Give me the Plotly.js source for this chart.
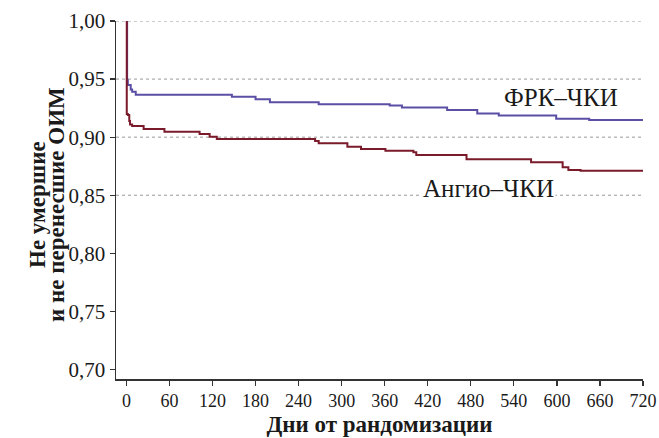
<!DOCTYPE html>
<html>
<head>
<meta charset="utf-8">
<script src="https://cdn.plot.ly/plotly-3.0.1.min.js"></script>
<style>html,body{margin:0;padding:0;background:#fff;}</style>
</head>
<body>
<div id="chart" style="width:659px;height:438px;"></div>
<script>
// Series: ФРК–ЧКИ (blue)
const frkDays = [0, 1, 2, 6, 8, 13, 147, 180, 200, 268, 367, 384, 447, 489, 519, 599, 645, 720];
const frkSurv = [1.00, 0.949, 0.945, 0.941, 0.939, 0.9365, 0.9347, 0.9327, 0.930, 0.9284, 0.9273, 0.9256, 0.9233, 0.9204, 0.9187, 0.9158, 0.9147, 0.9147];
// Series: Ангио–ЧКИ (red)
const angDays = [0, 0.5, 2, 4, 5, 8, 24, 53, 102, 116, 126, 263, 268, 308, 327, 361, 400, 404, 474, 564, 608, 616, 633, 720];
const angSurv = [1.00, 0.920, 0.919, 0.914, 0.911, 0.9095, 0.907, 0.9047, 0.9027, 0.9004, 0.8984, 0.8967, 0.8948, 0.8918, 0.8898, 0.8883, 0.887, 0.8846, 0.881, 0.8783, 0.874, 0.8717, 0.8711, 0.8711];

const xTicks = [0, 60, 120, 180, 240, 300, 360, 420, 480, 540, 600, 660, 720];
const yTicks = [0.70, 0.75, 0.80, 0.85, 0.90, 0.95, 1.00];
const yTickLabels = ['0,70', '0,75', '0,80', '0,85', '0,90', '0,95', '1,00'];
const gridVals = [0.85, 0.90, 0.95, 1.00];

const seriesNames = ['ФРК–ЧКИ', 'Ангио–ЧКИ'];
const xTitle = 'Дни от рандомизации';
const yTitleLines = ['Не умершие', 'и не перенесшие ОИМ'];

const serif = 'Liberation Serif, Times New Roman, serif';

const traces = [
  {x: frkDays, y: frkSurv, mode: 'lines', line: {shape: 'hv', color: '#5b4fa5', width: 2}, name: seriesNames[0], hoverinfo: 'skip'},
  {x: angDays, y: angSurv, mode: 'lines', line: {shape: 'hv', color: '#7a1a2b', width: 2}, name: seriesNames[1], hoverinfo: 'skip'}
];

const shapes = gridVals.map(v => ({
  type: 'line', xref: 'paper', x0: 0, x1: 1, yref: 'y', y0: v, y1: v,
  line: {color: '#9a9a9a', width: 1, dash: 'dot'}, layer: 'below'
}));

const layout = {
  width: 659, height: 438,
  margin: {l: 116, r: 16, t: 21, b: 59},
  paper_bgcolor: '#fff', plot_bgcolor: '#fff',
  showlegend: false,
  font: {family: serif, color: '#1a1a1a'},
  xaxis: {
    range: [-14.5, 720], tickvals: xTicks, ticktext: xTicks.map(String),
    showgrid: false, zeroline: false, showline: true, linecolor: '#333', linewidth: 1.5,
    ticks: 'outside', ticklen: 5, tickwidth: 1.2, tickcolor: '#333',
    tickfont: {family: serif, size: 18, color: '#1a1a1a'},
    title: {text: '<b>' + xTitle + '</b>', font: {family: serif, size: 23, color: '#1a1a1a'}, standoff: 6}
  },
  yaxis: {
    range: [0.6918, 1.0], tickvals: yTicks, ticktext: yTickLabels,
    showgrid: false, zeroline: false, showline: true, linecolor: '#333', linewidth: 1.5,
    ticks: 'outside', ticklen: 5, tickwidth: 1.2, tickcolor: '#333',
    tickfont: {family: serif, size: 21, color: '#1a1a1a'}
  },
  shapes: shapes,
  annotations: [
    {x: 606, y: 0.934, xref: 'x', yref: 'y', text: seriesNames[0], showarrow: false,
     font: {family: serif, size: 25, color: '#1a1a1a'}, xanchor: 'center', yanchor: 'middle'},
    {x: 504, y: 0.8555, xref: 'x', yref: 'y', text: seriesNames[1], showarrow: false,
     font: {family: serif, size: 25, color: '#1a1a1a'}, xanchor: 'center', yanchor: 'middle', bgcolor: '#fff'},
    {x: 0, y: 0.5, xref: 'paper', yref: 'paper', xshift: -79, yshift: -5, text: '<b>' + yTitleLines[0] + '</b>', showarrow: false,
     textangle: -90, font: {family: serif, size: 23, color: '#1a1a1a'}, xanchor: 'center', yanchor: 'middle'},
    {x: 0, y: 0.5, xref: 'paper', yref: 'paper', xshift: -60, yshift: -5, text: '<b>' + yTitleLines[1] + '</b>', showarrow: false,
     textangle: -90, font: {family: serif, size: 23, color: '#1a1a1a'}, xanchor: 'center', yanchor: 'middle'}
  ]
};

Plotly.newPlot('chart', traces, layout, {displayModeBar: false, staticPlot: true});
</script>
</body>
</html>
